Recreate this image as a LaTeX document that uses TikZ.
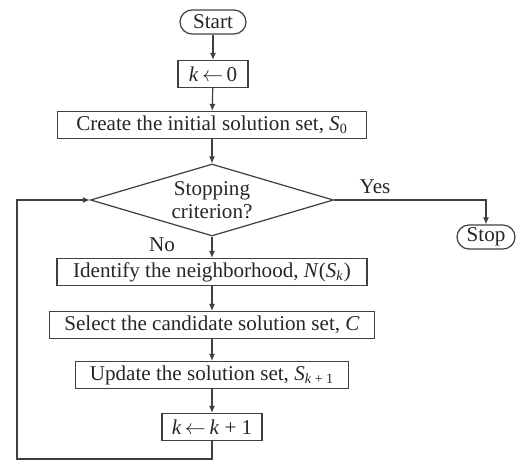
\documentclass[tikz,border=0pt]{standalone}
\usepackage{fontspec}
\setmainfont{Liberation Serif}
\usetikzlibrary{shapes.geometric,arrows.meta}

\tikzset{
  line/.style={draw=black!75, line width=0.7pt},
  flow/.style={line, -{Latex[length=4pt,width=3.5pt]}},
  procbox/.style={draw=black!75, line width=0.7pt, minimum height=0.54cm, inner xsep=4pt, inner ysep=1pt},
  termbox/.style={draw=black!75, line width=0.7pt, rounded corners=0.24cm, minimum height=0.48cm, inner xsep=5pt, inner ysep=1pt},
  decbox/.style={draw=black!75, line width=0.7pt, diamond, aspect=3.4, minimum width=4.86cm, minimum height=1.44cm, inner sep=0pt, align=center}
}

\begin{document}
\begin{tikzpicture}[x=0.02cm, y=-0.02cm, font=\fontsize{12}{13}\selectfont, text=black!85]
    \useasboundingbox (0,0) rectangle (518,460);
    \node[termbox, minimum width=1.32cm] (start) at (213,22) {Start};
    \node[procbox, minimum width=1.4cm, inner xsep=2pt] (k0) at (213,74) {\textit{k}\,$\leftarrow$\,0};
    \node[procbox, minimum width=6.18cm] (create) at (212,125) {Create the initial solution set, \textit{S}\textsubscript{0}};
    \node[decbox] (crit) at (212,200) {Stopping\\criterion?};
    \node[termbox, minimum width=1.16cm] (stop) at (486,237) {Stop};
    \node[procbox, minimum width=6.2cm] (ident) at (212,272) {Identify the neighborhood, \textit{N}(\textit{S}\textsubscript{\textit{k}})};
    \node[procbox, minimum width=6.5cm] (select) at (212,325) {Select the candidate solution set, \textit{C}};
    \node[procbox, minimum width=5.46cm] (update) at (212,375) {Update the solution set, \textit{S}\textsubscript{\textit{k} + 1}};
    \node[procbox, minimum width=2.0cm] (kinc) at (212,427) {\textit{k}\,$\leftarrow$\,\textit{k} + 1};
    \node (yes) at (375,187) {Yes};
    \node (no) at (162,245) {No};
    \coordinate (bot) at (212,459);
    \coordinate (corner) at (17,459);

    \draw[flow] (start) -- (k0);
    \draw[flow] (k0) -- (create);
    \draw[flow] (create) -- (crit);
    \draw[flow] (crit.east) -| (stop.north);
    \draw[flow] (crit.south) -- (ident);
    \draw[flow] (ident) -- (select);
    \draw[flow] (select) -- (update);
    \draw[flow] (update) -- (kinc);
    \draw[flow] (kinc.south) -- (bot) -- (corner) |- (crit.west);
\end{tikzpicture}
\end{document}
